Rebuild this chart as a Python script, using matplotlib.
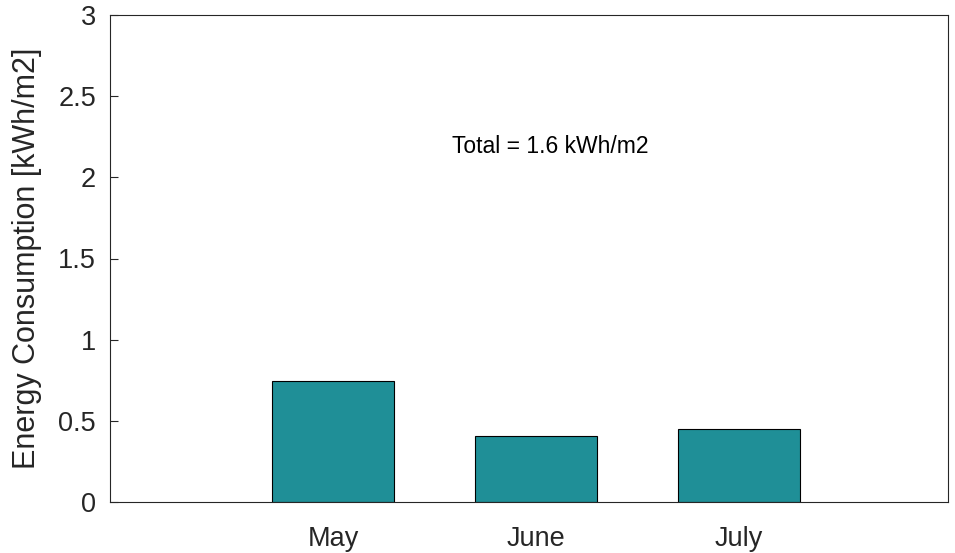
import matplotlib
matplotlib.use("Agg")
import matplotlib.pyplot as plt

months = ["May", "June", "July"]
values = [0.745, 0.407, 0.450]
total_label = "Total = 1.6 kWh/m2"

plt.rcParams['font.family'] = ['Liberation Sans', 'DejaVu Sans']
fig = plt.figure(figsize=(9.55, 5.53), dpi=100)
ax = fig.add_axes([110/955, 51/553, 838/955, 487/553])
x = [1, 2, 3]
ax.bar(x, values, width=0.6, color='#1f8f97', edgecolor='black', linewidth=0.8)
ax.set_xlim(1 - 1.1, 3 + 1.03)
ax.set_ylim(0, 3)
ax.set_xticks(x)
ax.set_xticklabels(months)
ax.set_yticks([0, 0.5, 1, 1.5, 2, 2.5, 3])
ax.set_yticklabels(['0', '0.5', '1', '1.5', '2', '2.5', '3'])
ax.tick_params(axis='both', labelsize=19.5, direction='in', length=6, colors='#262626')
ax.tick_params(axis='x', length=0, pad=17)
ax.tick_params(axis='y', pad=10)
for s in ax.spines.values():
    s.set_color('#262626')
ax.set_ylabel('Energy Consumption [kWh/m2]', fontsize=22, color='#262626', labelpad=12)
ax.text(2.07, 2.19, total_label, fontsize=16.5, ha='center', va='center')
fig.savefig('out.png', dpi=100)
